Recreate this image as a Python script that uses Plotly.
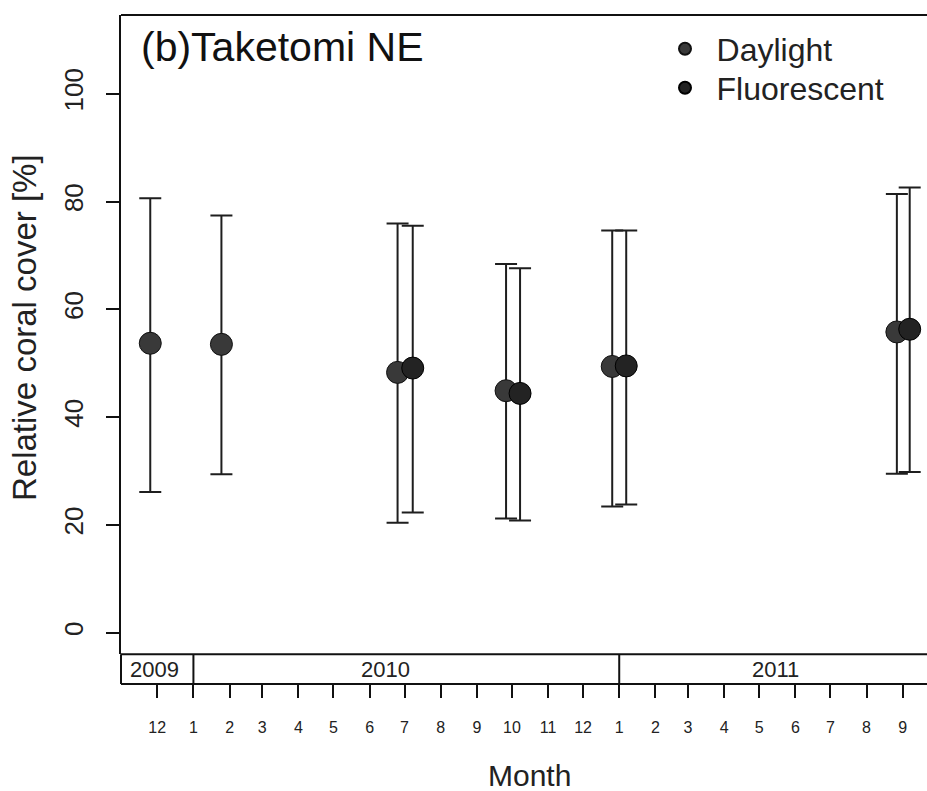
import plotly.graph_objects as go

# ---------------- data ----------------
day_dates = ["2009-11-25", "2010-01-25", "2010-06-25", "2010-09-26", "2010-12-26", "2011-08-27"]
day_mean  = [53.7, 53.5, 48.3, 44.9, 49.4, 55.8]
day_upper = [80.6, 77.4, 75.9, 68.4, 74.6, 81.4]
day_lower = [26.1, 29.4, 20.4, 21.2, 23.4, 29.5]

flu_dates = ["2010-07-08", "2010-10-08", "2011-01-07", "2011-09-07"]
flu_mean  = [49.1, 44.4, 49.5, 56.3]
flu_upper = [75.5, 67.6, 74.6, 82.6]
flu_lower = [22.3, 20.8, 23.8, 29.8]

month_starts = ["2009-12-01", "2010-01-01", "2010-02-01", "2010-03-01", "2010-04-01",
                "2010-05-01", "2010-06-01", "2010-07-01", "2010-08-01", "2010-09-01",
                "2010-10-01", "2010-11-01", "2010-12-01", "2011-01-01", "2011-02-01",
                "2011-03-01", "2011-04-01", "2011-05-01", "2011-06-01", "2011-07-01",
                "2011-08-01", "2011-09-01"]
month_labels = ["12", "1", "2", "3", "4", "5", "6", "7", "8", "9", "10", "11", "12",
                "1", "2", "3", "4", "5", "6", "7", "8", "9"]
year_labels = ["2009", "2010", "2011"]
year_breaks = ["2010-01-01", "2011-01-01"]

y_ticks = [0, 20, 40, 60, 80, 100]

FONT = "Liberation Sans, Arial, sans-serif"
STRIP = 0.0444  # fraction of plot height used by the year strip

def px_x(p):
    return (p - 121) / 806

def px_y(p):
    return (684 - p) / 669

def err(mean, upper, lower):
    return dict(type="data", symmetric=False,
                array=[u - m for u, m in zip(upper, mean)],
                arrayminus=[m - l for m, l in zip(mean, lower)],
                color="#1e1e1e", thickness=2, width=11)

fig = go.Figure()
fig.add_trace(go.Scatter(
    x=day_dates, y=day_mean, mode="markers", name="\u00a0\u200aDaylight", legend="legend",
    marker=dict(size=22, color="#393939", line=dict(color="#111111", width=1)),
    error_y=err(day_mean, day_upper, day_lower)))
fig.add_trace(go.Scatter(
    x=flu_dates, y=flu_mean, mode="markers", name="\u00a0\u200aFluorescent", legend="legend2",
    marker=dict(size=22, color="#232323", line=dict(color="#000000", width=1)),
    error_y=err(flu_mean, flu_upper, flu_lower)))

shapes = [
    dict(type="line", xref="paper", yref="paper", x0=0, x1=1, y0=1, y1=1,
         line=dict(color="#111", width=2)),
    dict(type="line", xref="paper", yref="paper", x0=0, x1=1, y0=STRIP, y1=STRIP,
         line=dict(color="#111", width=2)),
    dict(type="line", xref="paper", yref="paper", x0=0, x1=0, y0=0, y1=STRIP,
         line=dict(color="#111", width=2)),
]
for b in year_breaks:
    shapes.append(dict(type="line", xref="x", yref="paper", x0=b, x1=b, y0=0, y1=STRIP,
                       line=dict(color="#111", width=2)))

year_pos = {"2009": "2009-11-29", "2010": "2010-06-15", "2011": "2011-05-15"}
annotations = [
    dict(text="(b)Taketomi NE", xref="paper", yref="paper",
         x=px_x(139), y=px_y(47), xanchor="left", yanchor="middle",
         showarrow=False, font=dict(family=FONT, size=41, color="#111")),
    dict(text="Relative coral cover [%]", xref="paper", yref="paper",
         x=px_x(24), y=px_y(328), textangle=-90,
         xanchor="center", yanchor="middle", showarrow=False,
         font=dict(family=FONT, size=33, color="#222")),
    dict(text="Month", xref="paper", yref="paper",
         x=px_x(529), y=px_y(775), xanchor="center", yanchor="middle",
         showarrow=False, font=dict(family=FONT, size=30, color="#222")),
]
for yl in year_labels:
    annotations.append(dict(text=yl, xref="x", yref="paper", x=year_pos[yl], y=STRIP / 2,
                            xanchor="center", yanchor="middle", showarrow=False,
                            font=dict(family=FONT, size=22, color="#222")))

leg_common = dict(xanchor="left", yanchor="middle", bgcolor="rgba(0,0,0,0)",
                  font=dict(family=FONT, size=32, color="#222"),
                  itemsizing="constant", borderwidth=0)

fig.update_layout(
    width=927, height=791,
    margin=dict(l=121, r=0, t=15, b=107, pad=0),
    paper_bgcolor="white", plot_bgcolor="white",
    font=dict(family=FONT, color="#222"),
    showlegend=True,
    legend=dict(x=px_x(665), y=px_y(49), **leg_common),
    legend2=dict(x=px_x(665), y=px_y(88), **leg_common),
    xaxis=dict(type="date", range=["2009-10-30 22:00", "2011-09-21 20:00"],
               anchor="free", position=0,
               showline=True, linecolor="#111", linewidth=2,
               ticks="outside", ticklen=13, tickwidth=2, tickcolor="#111",
               tickvals=month_starts, ticktext=month_labels, tickangle=0,
               tickfont=dict(family=FONT, size=16, color="#222"),
               ticklabelstandoff=16,
               showgrid=False, zeroline=False, automargin=False),
    yaxis=dict(domain=[STRIP, 1], range=[-4.0, 114.6],
               showline=True, linecolor="#111", linewidth=2,
               ticks="outside", ticklen=13, tickwidth=2, tickcolor="#111",
               tickvals=y_ticks, tickangle=-90,
               tickfont=dict(family=FONT, size=26, color="#222"),
               ticklabelstandoff=13,
               showgrid=False, zeroline=False, automargin=False),
    shapes=shapes, annotations=annotations,
)

fig.write_html("out.html", config={"displayModeBar": False},
               post_script="document.body.style.margin='0';")
